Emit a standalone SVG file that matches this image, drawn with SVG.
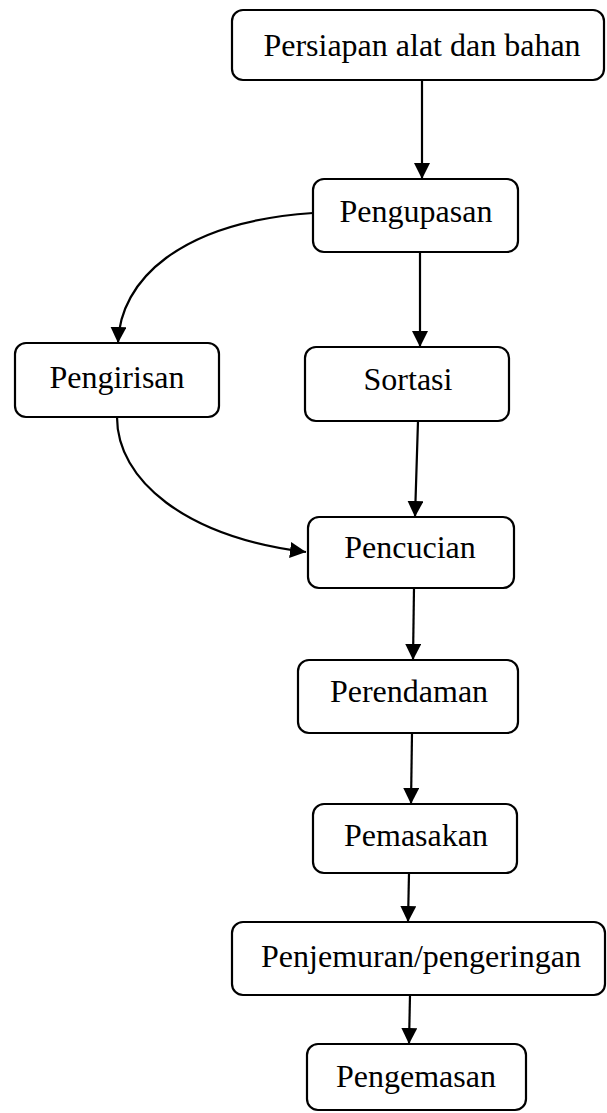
<svg xmlns="http://www.w3.org/2000/svg" width="607" height="1113" viewBox="0 0 607 1113">
<style>
.box{fill:#fff;stroke:#000;stroke-width:2.2}
.lbl{font-family:"Liberation Serif","Times New Roman",serif;font-size:32px;fill:#000;text-anchor:middle}
.edge{fill:none;stroke:#000;stroke-width:2.2}
</style>
<defs>
<marker id="arr" markerUnits="userSpaceOnUse" markerWidth="17" markerHeight="16" refX="16" refY="8" orient="auto">
<path d="M0,0 L16,8 L0,16 z" fill="#000"/>
</marker>
</defs>
<rect width="607" height="1113" fill="#fff"/>
<g id="connectors">
<path class="edge" d="M422,80 L422,179" marker-end="url(#arr)"/>
<path class="edge" d="M420,252 L420,347" marker-end="url(#arr)"/>
<path class="edge" d="M313,213 C180,222 120,280 118,343" marker-end="url(#arr)"/>
<path class="edge" d="M117,417 C117,480 185,537 306,552" marker-end="url(#arr)"/>
<path class="edge" d="M418,421 L415,517" marker-end="url(#arr)"/>
<path class="edge" d="M414,588 L413,660" marker-end="url(#arr)"/>
<path class="edge" d="M412,733 L411,804" marker-end="url(#arr)"/>
<path class="edge" d="M409,873 L408,922" marker-end="url(#arr)"/>
<path class="edge" d="M410,995 L409,1044" marker-end="url(#arr)"/>
</g>
<g id="n1"><rect class="box" x="232" y="10" width="372" height="70" rx="11"/><text class="lbl" x="422" y="56">Persiapan alat dan bahan</text></g>
<g id="n2"><rect class="box" x="313" y="179" width="205" height="73" rx="11"/><text class="lbl" x="416" y="222">Pengupasan</text></g>
<g id="n3"><rect class="box" x="15" y="343" width="204" height="74" rx="11"/><text class="lbl" x="117" y="388">Pengirisan</text></g>
<g id="n4"><rect class="box" x="305" y="347" width="204" height="74" rx="11"/><text class="lbl" x="408" y="390">Sortasi</text></g>
<g id="n5"><rect class="box" x="308" y="517" width="206" height="71" rx="11"/><text class="lbl" x="410" y="558">Pencucian</text></g>
<g id="n6"><rect class="box" x="298" y="660" width="220" height="73" rx="11"/><text class="lbl" x="409" y="702">Perendaman</text></g>
<g id="n7"><rect class="box" x="313" y="804" width="204" height="69" rx="11"/><text class="lbl" x="416" y="846">Pemasakan</text></g>
<g id="n8"><rect class="box" x="232" y="922" width="373" height="73" rx="11"/><text class="lbl" x="421" y="967">Penjemuran/pengeringan</text></g>
<g id="n9"><rect class="box" x="307" y="1044" width="219" height="66" rx="11"/><text class="lbl" x="416" y="1087">Pengemasan</text></g>
</svg>
